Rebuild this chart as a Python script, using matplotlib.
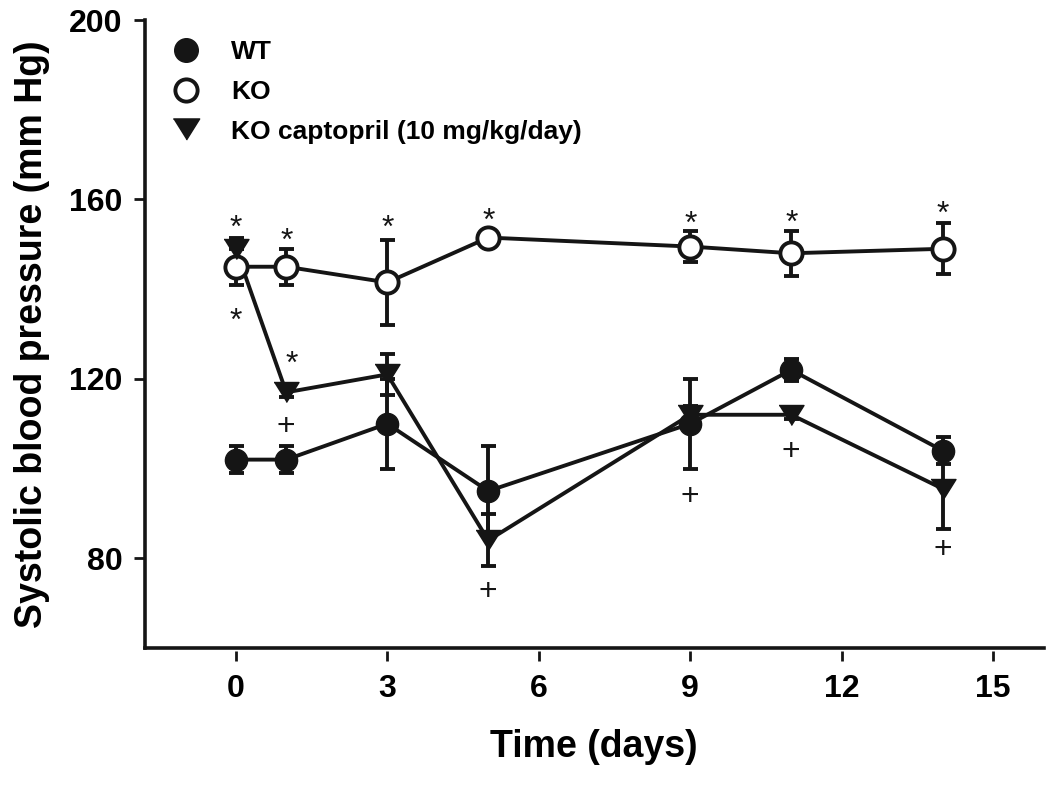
import numpy as np
import matplotlib
matplotlib.use('Agg')
import matplotlib.pyplot as plt
from matplotlib.lines import Line2D

plt.rcParams['font.family'] = ['Liberation Sans', 'DejaVu Sans']

# data
days = [0, 1, 3, 5, 9, 11, 14]
wt_mean = [102, 102, 110, 95, 110, 122, 104]
wt_err = [3, 3, 10, 10, 10, 2.5, 3]
ko_mean = [145, 145, 141.5, 151.5, 149.5, 148, 149]
ko_err = [4, 4, 9.5, 1, 3.5, 5, 5.7]
cap_mean = [149, 117, 121, 84, 112, 112, 95.5]
cap_err = [2.5, 1, 4.5, 5.8, 2, 1, 9]

# significance marks (glyph centres)
star_x = [0, 0, 1, 1.1, 3, 5, 9, 11, 14]
star_y = [156.1, 135.4, 153.2, 125.8, 156.1, 157.7, 157.0, 157.2, 159.2]
plus_x = [1, 5, 9, 11, 14]
plus_y = [109.8, 73.0, 94.2, 104.2, 82.4]

ink = '#151515'
lw = 2.8
mark_fs = 23

fig = plt.figure(figsize=(10.5, 7.85), dpi=100)
ax = fig.add_axes([0.138, 0.1745, 0.856, 0.80])

tri = [(-1, 0.8), (1, 0.8), (0, -0.8)]

ax.errorbar(days, wt_mean, yerr=wt_err, fmt='o', ms=16, color=ink, mfc=ink, mec=ink,
            lw=lw, elinewidth=lw, capsize=5.4, capthick=lw, zorder=3)
ax.plot(days, wt_mean, color=ink, lw=lw, zorder=2)

ax.errorbar(days, ko_mean, yerr=ko_err, fmt='o', ms=16, color=ink, mfc='white', mec=ink,
            mew=lw, lw=lw, elinewidth=lw, capsize=5.4, capthick=lw, zorder=3)
ax.plot(days, ko_mean, color=ink, lw=lw, zorder=2)

ax.errorbar(days, cap_mean, yerr=cap_err, fmt='none', ecolor=ink,
            elinewidth=lw, capsize=5.4, capthick=lw, zorder=3)
ax.plot(days, cap_mean, color=ink, lw=lw, zorder=2)
ax.plot(days, cap_mean, linestyle='none', marker=tri, ms=18, color=ink, zorder=4)

for x, y in zip(star_x, star_y):
    ax.annotate('*', (x, y), xytext=(0, -0.62 * mark_fs), textcoords='offset points',
                ha='center', va='baseline', fontsize=mark_fs, color=ink)
for x, y in zip(plus_x, plus_y):
    ax.annotate('+', (x, y), xytext=(0, -0.33 * mark_fs), textcoords='offset points',
                ha='center', va='baseline', fontsize=mark_fs, color=ink)

ax.set_xlim(-1.8, 16)
ax.set_ylim(60, 200)
ax.set_xticks([0, 3, 6, 9, 12, 15])
ax.set_yticks([80, 120, 160, 200])

for s in ['top', 'right']:
    ax.spines[s].set_visible(False)
ax.spines['left'].set_linewidth(2.6)
ax.spines['left'].set_color(ink)
# x ticks hang slightly below the frame line
ax.spines['bottom'].set_position(('outward', 2))
ax.spines['bottom'].set_color('none')
ax.plot([0, 1], [0, 0], transform=ax.transAxes, color=ink, lw=2.6,
        clip_on=False, solid_capstyle='projecting', zorder=5)

ax.tick_params(axis='both', direction='out', width=2, color=ink, labelsize=23)
ax.tick_params(axis='y', length=8, pad=8)
ax.tick_params(axis='x', length=7, pad=10)
for lab in ax.get_xticklabels() + ax.get_yticklabels():
    lab.set_fontweight('bold')

ax.set_xlabel('Time (days)', fontsize=27, fontweight='bold', labelpad=18)
ax.set_ylabel('Systolic blood pressure (mm Hg)', fontsize=27, fontweight='bold', labelpad=14)

handles = [
    Line2D([], [], linestyle='none', marker='o', ms=17, color=ink),
    Line2D([], [], linestyle='none', marker='o', ms=16, mfc='white', mec=ink, mew=lw),
    Line2D([], [], linestyle='none', marker=tri, ms=19, color=ink),
]
ax.legend(handles, ['WT', 'KO', 'KO captopril (10 mg/kg/day)'], loc='upper left',
          bbox_to_anchor=(0.005, 0.985), frameon=False, prop={'size': 19, 'weight': 'bold'},
          handletextpad=0.7, labelspacing=0.6, borderaxespad=0)

fig.savefig('out.png', dpi=100)
